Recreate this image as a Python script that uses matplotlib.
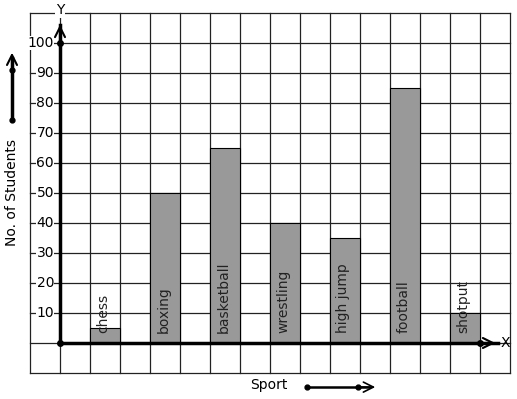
import matplotlib
matplotlib.use('Agg')
import matplotlib.pyplot as plt

# datos
sports = ['chess', 'boxing', 'basketball', 'wrestling', 'high jump', 'football', 'shotput']
students = [5, 50, 65, 40, 35, 85, 10]
pos = [1.5, 3.5, 5.5, 7.5, 9.5, 11.5, 13.5]
yticks = [10, 20, 30, 40, 50, 60, 70, 80, 90, 100]

fig = plt.figure(figsize=(5.17, 3.99), dpi=100)
ax = fig.add_axes([0, 0, 1, 1])
# 1 unidad x = 30 px, 10 unidades y = 30 px
ax.set_xlim(-2, 457 / 30)
ax.set_ylim(-56 / 3, 343 / 3)
ax.axis('off')

# cuadricula
for i in range(-1, 16):
    ax.plot([i, i], [-10, 110], color='#222222', lw=0.9, zorder=1)
for j in range(-10, 111, 10):
    ax.plot([-1, 15], [j, j], color='#222222', lw=0.9, zorder=1)

# barras
ax.bar(pos, students, width=1, color='#999999', edgecolor='black', lw=0.8, zorder=2)
for p, s in zip(pos, sports):
    ax.text(p - 0.05, 3.3, s, rotation=90, ha='center', va='bottom', fontsize=10,
            color='#222222', zorder=4)

# ejes
ax.plot([0, 14.6], [0, 0], color='black', lw=2.5, zorder=3)
ax.plot([0, 0], [0, 106], color='black', lw=2.5, zorder=3)
ax.annotate('', xy=(14.6, 0), xytext=(13.8, 0),
            arrowprops=dict(arrowstyle='->', lw=1.5, mutation_scale=18), zorder=3)
ax.annotate('', xy=(0, 107), xytext=(0, 100),
            arrowprops=dict(arrowstyle='->', lw=1.5, mutation_scale=18), zorder=3)
ax.plot([0, 0, 14], [0, 100, 0], 'o', color='black', ms=4, ls='none', zorder=4)
ax.text(14.85, 0, 'X', ha='center', va='center', fontsize=10, zorder=4)
ax.text(0, 111, 'Y', ha='center', va='center', fontsize=10, zorder=4,
        bbox=dict(facecolor='white', edgecolor='none', pad=0.5))

for t in yticks:
    ax.text(-0.2, t, str(t), ha='right', va='center', fontsize=10, zorder=4,
            bbox=dict(facecolor='white', edgecolor='none', pad=0.3))

# etiquetas
ax.text(-1.6, 50, 'No. of Students', rotation=90, ha='center', va='center', fontsize=10)
ax.text(6.95, -14, 'Sport', ha='center', va='center', fontsize=10)

# flechas decorativas
ax.plot([-1.6, -1.6], [74.3, 95], color='black', lw=2.5)
ax.annotate('', xy=(-1.6, 97.7), xytext=(-1.6, 90),
            arrowprops=dict(arrowstyle='->', lw=1.5, mutation_scale=18))
ax.plot([-1.6, -1.6], [74.3, 91], 'o', color='black', ms=3.5, ls='none')
ax.plot([8.23, 10.3], [-14.7, -14.7], color='black', lw=1.8)
ax.annotate('', xy=(10.6, -14.7), xytext=(9.9, -14.7),
            arrowprops=dict(arrowstyle='->', lw=1.2, mutation_scale=18))
ax.plot([8.23, 9.93], [-14.7, -14.7], 'o', color='black', ms=3.5, ls='none')

fig.savefig('out.png', dpi=100)
